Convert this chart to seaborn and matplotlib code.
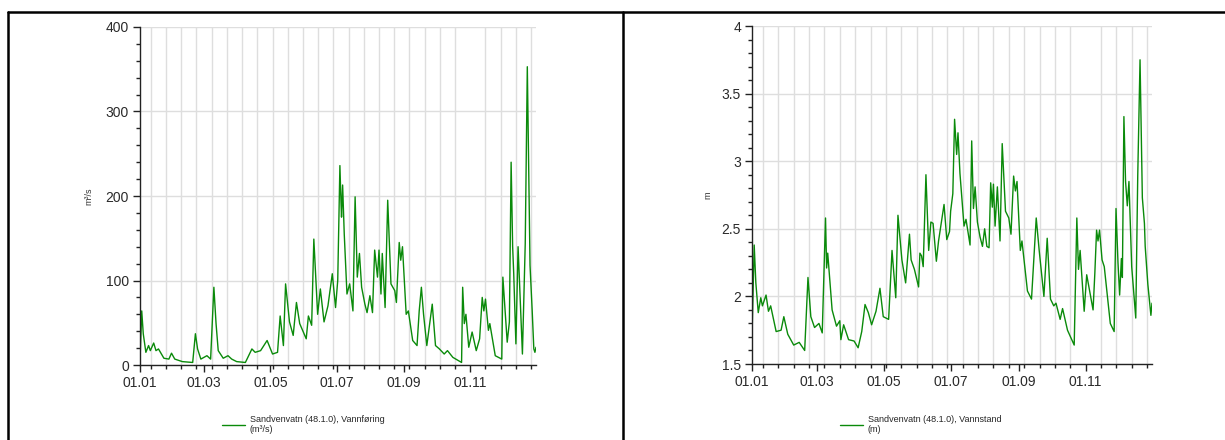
import pandas as pd
import numpy as np
import matplotlib
matplotlib.use('Agg')
import matplotlib.pyplot as plt
import matplotlib.dates as mdates
from matplotlib.lines import Line2D
from matplotlib.ticker import MultipleLocator
import seaborn as sns

# Vannføring (m³/s), dag i året -> verdi
flow_days = [0, 1.6, 3, 5.4, 7.9, 9.5, 12.6, 14.7, 17, 22, 26.6, 29, 32, 39, 48.5, 51, 53, 56,
             61.6, 65, 68, 70, 72, 76.6, 81, 84.4, 89, 97, 103, 106, 111, 117, 122, 126.6, 129,
             132, 134, 137.6, 141, 144, 147, 153, 155, 158, 160, 163.5, 166, 169.4, 173, 177,
             180, 182, 184, 185, 185.5, 186.5, 188, 190.5, 193, 196, 198, 200, 202, 204, 207,
             209, 211.6, 214, 216, 218.6, 220, 221.8, 223, 225.6, 228, 231, 234.5, 236, 238.6,
             240, 241.6, 245, 247, 251, 255, 257, 259, 261, 264, 269, 272, 275.6, 280, 283, 288,
             296, 297, 298.5, 300, 302.6, 305.7, 309.5, 312.6, 315, 316.5, 318, 320.7, 322, 327,
             333, 334, 338, 340, 341.6, 343, 344, 346, 348, 352, 354.6, 356.5, 359, 361, 362.5,
             363.5, 364.5]
flow_vals = [5, 64, 37, 15, 23, 17, 26, 17, 19, 8, 7, 14, 7, 4, 3, 37, 19, 7,
             11, 7, 92, 49, 17, 8, 11, 7, 4, 3, 19, 15, 17, 29, 13, 15, 58,
             23, 96, 51, 35, 74, 49, 31, 58, 47, 149, 60, 90, 51, 70, 108,
             68, 100, 236, 193, 175, 213, 155, 84, 96, 64, 199, 104, 132, 92, 72,
             62, 82, 62, 136, 104, 136, 84, 132, 68, 195, 96, 88, 74, 145,
             124, 140, 60, 64, 29, 23, 64, 92, 60, 23, 72, 23, 19, 13, 17, 9,
             3, 92, 49, 60, 21, 39, 17, 31, 80, 64, 78, 41, 49, 11,
             7, 104, 27, 51, 240, 140, 108, 25, 140, 13, 144, 353, 118, 64, 19,
             15, 21]

# Vannstand (m)
level_days = [0, 2, 3.5, 5.7, 8, 9.5, 12.8, 15, 17, 22, 26.5, 29, 32.6, 38, 43, 48, 51, 53.6,
              57, 61, 64, 67, 68, 69, 73, 77, 80, 81, 83.5, 88, 93, 96.7, 100, 103, 106, 109,
              113, 116.6, 119.6, 124.5, 127.6, 131, 133, 136.6, 140, 143.5, 145, 148, 151.8,
              153, 154.5, 156, 158.5, 161, 163, 165, 168, 170, 173, 175, 177.5, 180, 181, 183,
              184.6, 186.5, 187.7, 189.5, 193.2, 195, 198.7, 200.2, 201.8, 203.3, 205.4, 207.8,
              210, 212, 214, 216, 217.5, 219, 220, 221.5, 223.6, 226, 228, 231, 234, 236, 238.4,
              240, 241.5, 244.5, 246, 251, 254.7, 257, 259, 261.7, 266, 269, 272, 275, 277,
              280.8, 283, 287.5, 293.6, 296, 297.5, 299, 302.7, 305, 310.8, 312.4, 314, 315.3,
              316.7, 319, 321, 326.5, 330, 331.7, 333.5, 335, 336.6, 337.5, 338.9, 340.4, 342,
              343.5, 346, 349.7, 351.5, 353.6, 355.7, 357.6, 358.3, 360.7, 363.5, 364.5]
level_vals = [1.70, 2.38, 2.10, 1.88, 1.99, 1.93, 2.01, 1.89, 1.93, 1.74, 1.75, 1.85, 1.72, 1.64,
              1.66, 1.60, 2.14, 1.85, 1.77, 1.80, 1.73, 2.58, 2.21, 2.32, 1.90, 1.78, 1.82, 1.68,
              1.79, 1.68, 1.67, 1.62, 1.74, 1.94, 1.88, 1.79, 1.89, 2.06, 1.85, 1.83, 2.34, 1.99,
              2.60, 2.27, 2.10, 2.46, 2.27, 2.20, 2.07, 2.32, 2.30, 2.22, 2.90, 2.34, 2.55, 2.54,
              2.26, 2.41, 2.57, 2.68, 2.42, 2.48, 2.63, 2.76, 3.31, 3.05, 3.21, 2.91, 2.52, 2.57,
              2.38, 3.15, 2.65, 2.81, 2.55, 2.44, 2.37, 2.50, 2.37, 2.36, 2.84, 2.66, 2.83, 2.52,
              2.81, 2.41, 3.13, 2.63, 2.58, 2.46, 2.89, 2.78, 2.85, 2.34, 2.41, 2.04, 1.98, 2.30,
              2.58, 2.34, 2.00, 2.43, 1.98, 1.93, 1.95, 1.83, 1.91, 1.75, 1.64, 2.58, 2.20, 2.34,
              1.89, 2.16, 1.90, 2.17, 2.49, 2.41, 2.49, 2.27, 2.22, 1.80, 1.74, 2.65, 2.25, 2.01,
              2.28, 2.14, 3.33, 2.85, 2.67, 2.85, 2.22, 1.84, 2.89, 3.75, 2.73, 2.54, 2.37, 2.09,
              1.86, 1.95]

year_start = pd.Timestamp('2010-01-01')
year_end = pd.Timestamp('2010-12-31 12:00')

def to_dates(days):
    return year_start + pd.to_timedelta(np.array(days), unit='D')

flow = pd.DataFrame({'dato': to_dates(flow_days), 'verdi': flow_vals})
level = pd.DataFrame({'dato': to_dates(level_days), 'verdi': level_vals})

sns.set_style('white')
plt.rcParams['font.family'] = ['Liberation Sans', 'DejaVu Sans']

fig = plt.figure(figsize=(12.25, 4.4), dpi=100)
ax1 = fig.add_axes([140 / 1225, 1 - 365 / 440, 396 / 1225, 338 / 440])
ax2 = fig.add_axes([752 / 1225, 1 - 364 / 440, 400 / 1225, 338 / 440])

green = '#0a8a0a'
sns.lineplot(data=flow, x='dato', y='verdi', ax=ax1, color=green, lw=1.0,
             label='Sandvenvatn (48.1.0), Vannføring\n(m³/s)')
sns.lineplot(data=level, x='dato', y='verdi', ax=ax2, color=green, lw=1.0,
             label='Sandvenvatn (48.1.0), Vannstand\n(m)')

ax1.set_ylim(0, 400)
ax1.yaxis.set_major_locator(MultipleLocator(100))
ax1.yaxis.set_minor_locator(MultipleLocator(20))
ax2.set_ylim(1.5, 4)
ax2.yaxis.set_major_locator(MultipleLocator(0.5))
ax2.yaxis.set_minor_locator(MultipleLocator(0.1))
ax2.yaxis.set_major_formatter(plt.FuncFormatter(lambda v, p: f'{v:g}'))

biweekly = pd.date_range('2010-01-11', year_end, freq='14D')
for ax, ylab, lx, leg_x in [(ax1, 'm³/s', -0.118, 222 / 1225), (ax2, 'm', -0.1, 840 / 1225)]:
    ax.set_xlim(year_start, year_end)
    ax.xaxis.set_major_locator(mdates.MonthLocator(bymonth=[1, 3, 5, 7, 9, 11]))
    ax.xaxis.set_major_formatter(mdates.DateFormatter('%d.%m'))
    ax.set_xticks(mdates.date2num(biweekly), minor=True)
    ax.grid(False)
    ax.grid(which='minor', axis='x', color='#dedede', lw=1.0)
    ax.grid(which='major', axis='y', color='#dedede', lw=1.0)
    ax.set_axisbelow(True)
    for s in ['top', 'right']:
        ax.spines[s].set_visible(False)
    for s in ['left', 'bottom']:
        ax.spines[s].set_color('#222222')
        ax.spines[s].set_linewidth(1.0)
    ax.tick_params(which='major', direction='out', length=5, width=1, color='#222222',
                   labelsize=10, labelcolor='#2a2a2a', pad=3,
                   left=True, bottom=True)
    ax.tick_params(which='minor', direction='out', length=3, width=1, color='#222222',
                   left=True, bottom=True)
    ax.set_xlabel('')
    ax.set_ylabel(ylab, fontsize=6.5, color='#333333')
    ax.yaxis.set_label_coords(lx, 0.5)
    ax.legend(loc='upper left', bbox_to_anchor=(leg_x, 1 - 415 / 440),
              bbox_transform=fig.transFigure, frameon=False, fontsize=6.5,
              handlelength=2.6, handletextpad=0.5, borderpad=0, borderaxespad=0,
              labelspacing=0)

# ramme rundt cellene
border = dict(transform=fig.transFigure, color='black', lw=1.8)
fig.add_artist(Line2D([0.0065, 1.0], [1 - 12 / 440, 1 - 12 / 440], **border))
fig.add_artist(Line2D([0.0065, 0.0065], [0, 1 - 12 / 440], **border))
fig.add_artist(Line2D([623 / 1225, 623 / 1225], [0, 1 - 12 / 440], **border))

fig.savefig('out.png', dpi=100, facecolor='white')
